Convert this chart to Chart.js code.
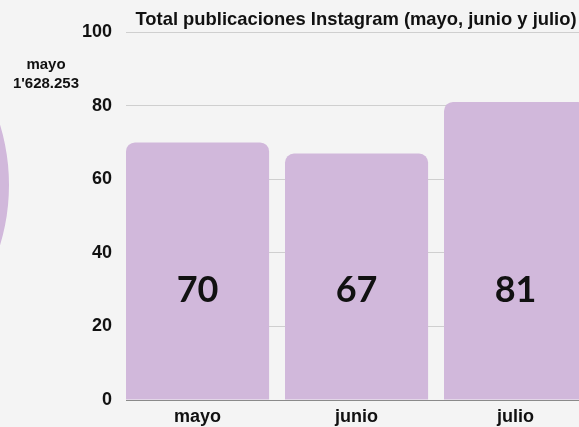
<!DOCTYPE html>
<html>
<head>
<meta charset="utf-8">
<script src="https://cdn.jsdelivr.net/npm/chart.js@4/dist/chart.umd.min.js"></script>
<style>
  html, body { margin:0; padding:0; width:579px; height:427px; overflow:hidden; background:#f4f4f4; }
  #wrap { position:relative; width:579px; height:427px; overflow:hidden; }
  #bar { position:absolute; left:0; top:0; }
  #pie { position:absolute; left:-407px; top:-23.5px; }
  #pieLabel { position:absolute; left:0; top:54px; width:92px; text-align:center;
    font:bold 15px "Liberation Sans", Arial, sans-serif; color:#111; line-height:19px; }
</style>
</head>
<body>
<div id="wrap">
  <canvas id="pie" width="416" height="416"></canvas>
  <div id="pieLabel"></div>
  <canvas id="bar" width="712" height="427"></canvas>
</div>
<script>
// ---- data ----
const categories = ['mayo', 'junio', 'julio'];
const publicaciones = [70, 67, 81];
const yTicks = [0, 20, 40, 60, 80, 100];
const chartTitle = 'Total publicaciones Instagram (mayo, junio y julio)';
const pieLabels = ['mayo'];
const pieValues = [1628253];

const lilac = '#d1b8db';
const font = '"Liberation Sans", Arial, sans-serif';

function fmt(n) {
  const s = String(n);
  const parts = [];
  for (let i = s.length; i > 0; i -= 3) parts.unshift(s.slice(Math.max(0, i - 3), i));
  if (parts.length <= 1) return s;
  if (parts.length === 2) return parts[0] + '.' + parts[1];
  return parts.slice(0, parts.length - 2).join("'") + "'" + parts[parts.length - 2] + '.' + parts[parts.length - 1];
}
document.getElementById('pieLabel').innerHTML = pieLabels[0] + '<br>' + fmt(pieValues[0]);

new Chart(document.getElementById('pie'), {
  type: 'pie',
  data: { labels: pieLabels, datasets: [{ data: pieValues, backgroundColor: lilac, borderWidth: 0 }] },
  options: {
    responsive: false, animation: false,
    plugins: { legend: { display: false }, tooltip: { enabled: false } }
  }
});

const valueLabels = {
  id: 'valueLabels',
  afterDatasetsDraw(chart) {
    const ctx = chart.ctx;
    const y0 = chart.scales.y.getPixelForValue(0);
    const meta = chart.getDatasetMeta(0);
    ctx.save();
    ctx.font = 'bold 36px Lato, "Liberation Sans", sans-serif';
    ctx.fillStyle = '#111';
    ctx.textAlign = 'center';
    ctx.textBaseline = 'middle';
    meta.data.forEach((bar, i) => {
      ctx.fillText(String(publicaciones[i]), bar.x, y0 - 110);
    });
    ctx.restore();
  }
};

new Chart(document.getElementById('bar'), {
  type: 'bar',
  data: {
    datasets: [{
      data: categories.map((c, i) => ({ x: i, y: publicaciones[i] })),
      backgroundColor: lilac,
      borderWidth: 0,
      borderRadius: 9,
      borderSkipped: 'bottom',
      barPercentage: 0.9,
      categoryPercentage: 1.0
    }]
  },
  options: {
    responsive: false,
    animation: false,
    layout: { padding: { left: 76, right: 76, top: 0, bottom: 0 } },
    plugins: {
      legend: { display: false },
      tooltip: { enabled: false },
      title: {
        display: true,
        text: chartTitle,
        color: '#111',
        font: { family: font, size: 18.4, weight: 'bold', lineHeight: 1.2 },
        padding: { top: 9, bottom: 1 }
      }
    },
    scales: {
      x: {
        type: 'linear',
        offset: false,
        min: -0.45,
        max: 2.7575,
        afterBuildTicks(scale) { scale.ticks = categories.map((c, i) => ({ value: i })); },
        afterFit(scale) { scale.height = 27; },
        ticks: {
          callback: (v) => categories[v],
          color: '#111',
          padding: 6,
          maxRotation: 0,
          font: { family: font, size: 18, weight: 'bold' }
        },
        grid: { display: false, drawTicks: false },
        border: { display: true, color: '#8a8a8a', width: 1 }
      },
      y: {
        min: 0,
        max: 100,
        afterBuildTicks(scale) { scale.ticks = yTicks.map(v => ({ value: v })); },
        afterFit(scale) { scale.width = 50; },
        ticks: {
          color: '#111',
          padding: 14,
          font: { family: font, size: 18, weight: 'bold' }
        },
        grid: { color: '#cfcfcf', drawTicks: false },
        border: { display: false }
      }
    }
  },
  plugins: [valueLabels]
});
</script>
</body>
</html>
